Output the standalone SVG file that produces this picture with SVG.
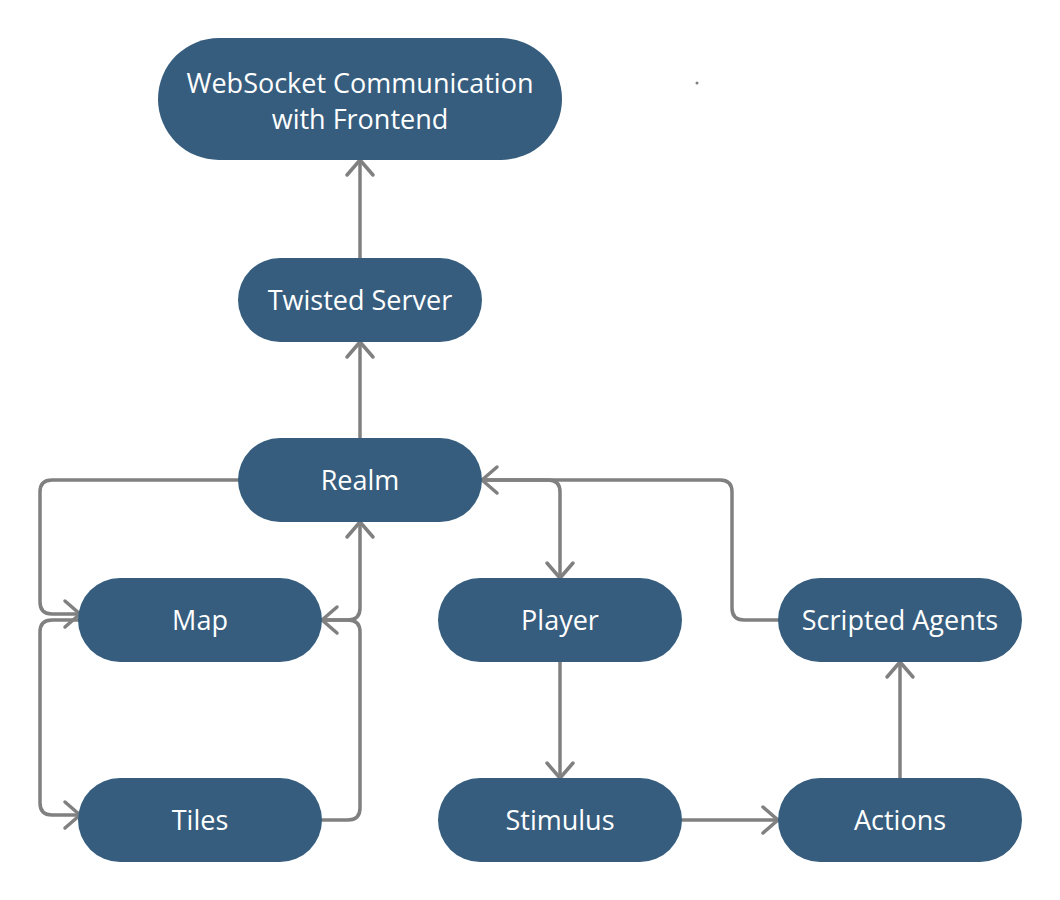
<svg xmlns="http://www.w3.org/2000/svg" width="1060" height="900" viewBox="0 0 1060 900">
<defs>
<style>
.node rect{fill:#365d7e;}
.node text{fill:#ffffff;font-family:"Open Sans","Noto Sans",sans-serif;font-size:27px;text-anchor:middle;}
#connectors path{fill:none;stroke:#808080;stroke-width:3.5;stroke-linecap:round;stroke-linejoin:round;}
</style>
<marker id="arr" viewBox="-18 -16 22 32" markerWidth="22" markerHeight="32" refX="0" refY="0" orient="auto" markerUnits="userSpaceOnUse">
<path d="M-15,-13 L0,0 L-15,13" fill="none" stroke="#808080" stroke-width="3.5" stroke-linecap="round" stroke-linejoin="round"/>
</marker>
</defs>
<rect width="1060" height="900" fill="#ffffff"/>
<g id="connectors">
<path d="M360,258 V160" marker-end="url(#arr)"/>
<path d="M360,438 V342" marker-end="url(#arr)"/>
<path d="M238,480 H52 Q40,480 40,492 V602 Q40,614 52,614 H80" marker-end="url(#arr)"/>
<path d="M80,620 H52 Q40,620 40,632 V803 Q40,815 52,815 H80" marker-end="url(#arr)"/>
<path d="M322,620 H348 Q360,620 360,608 V522" marker-end="url(#arr)"/>
<path d="M322,820 H348 Q360,820 360,808 V632 Q360,620 348,620 H322" marker-end="url(#arr)"/>
<path d="M778,620 H744 Q732,620 732,608 V492 Q732,480 720,480 H482" marker-end="url(#arr)"/>
<path d="M482,480 H548 Q560,480 560,492 V578" marker-end="url(#arr)"/>
<path d="M560,662 V778" marker-end="url(#arr)"/>
<path d="M682,820 H778" marker-end="url(#arr)"/>
<path d="M900,778 V662" marker-end="url(#arr)"/>
</g>
<g id="websocket" class="node">
<rect x="158" y="38" width="404" height="122" rx="61" ry="61"/>
<text x="360" y="92.5">WebSocket Communication</text>
<text x="360" y="128.5">with Frontend</text>
</g>
<g id="twisted" class="node">
<rect x="238" y="258" width="244" height="84" rx="42" ry="42"/>
<text x="360" y="309.5">Twisted Server</text>
</g>
<g id="realm" class="node">
<rect x="238" y="438" width="244" height="84" rx="42" ry="42"/>
<text x="360" y="489.5">Realm</text>
</g>
<g id="map" class="node">
<rect x="78" y="578" width="244" height="84" rx="42" ry="42"/>
<text x="200" y="629.5">Map</text>
</g>
<g id="player" class="node">
<rect x="438" y="578" width="244" height="84" rx="42" ry="42"/>
<text x="560" y="629.5">Player</text>
</g>
<g id="scripted" class="node">
<rect x="778" y="578" width="244" height="84" rx="42" ry="42"/>
<text x="900" y="629.5">Scripted Agents</text>
</g>
<g id="tiles" class="node">
<rect x="78" y="778" width="244" height="84" rx="42" ry="42"/>
<text x="200" y="829.5">Tiles</text>
</g>
<g id="stimulus" class="node">
<rect x="438" y="778" width="244" height="84" rx="42" ry="42"/>
<text x="560" y="829.5">Stimulus</text>
</g>
<g id="actions" class="node">
<rect x="778" y="778" width="244" height="84" rx="42" ry="42"/>
<text x="900" y="829.5">Actions</text>
</g>
<circle cx="697" cy="83" r="1.5" fill="#808080"/>
</svg>
